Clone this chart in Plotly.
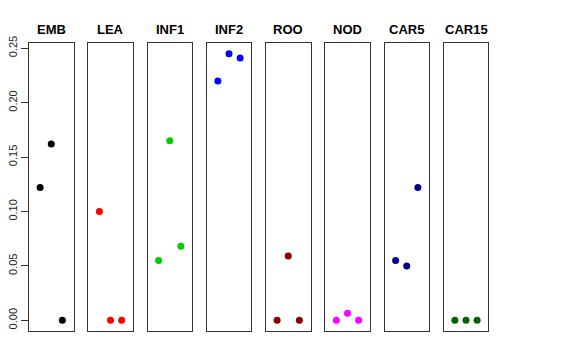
import plotly.graph_objects as go

panels = ["EMB", "LEA", "INF1", "INF2", "ROO", "NOD", "CAR5", "CAR15"]
colors = ["#000000", "#FF0000", "#00CD00", "#0000FF", "#8B0000", "#FF00FF", "#00008B", "#006400"]
positions = [1, 2, 3]
values = [
    [0.122, 0.162, 0.000],
    [0.100, 0.000, 0.000],
    [0.055, 0.165, 0.068],
    [0.220, 0.245, 0.241],
    [0.000, 0.059, 0.000],
    [0.000, 0.0065, 0.000],
    [0.055, 0.050, 0.122],
    [0.000, 0.000, 0.000],
]
yticks = [0.00, 0.05, 0.10, 0.15, 0.20, 0.25]
yticklabels = ["0.00", "0.05", "0.10", "0.15", "0.20", "0.25"]

W, H = 576, 360
left0, pitch, pw = 29, 59.25, 44.5
top, bottom = 43, 331
ymax = 0.245
yrange = [-0.04 * ymax, ymax * 1.04]

fig = go.Figure()
layout = dict(
    width=W, height=H, margin=dict(l=0, r=0, t=0, b=0),
    paper_bgcolor="white", plot_bgcolor="white", showlegend=False,
    font=dict(family="Liberation Sans, Arial, sans-serif", color="black"),
)
annotations = []
for i, (name, col, vals) in enumerate(zip(panels, colors, values)):
    n = "" if i == 0 else str(i + 1)
    fig.add_trace(go.Scatter(
        x=positions, y=vals, mode="markers",
        marker=dict(color=col, size=7),
        xaxis="x" + n, yaxis="y" + n, hoverinfo="skip",
    ))
    x0 = (left0 + i * pitch) / W
    x1 = (left0 + i * pitch + pw) / W
    layout["xaxis" + n] = dict(
        domain=[x0, x1], range=[0, 4], showgrid=False, zeroline=False,
        showticklabels=False, ticks="", showline=True, mirror=True,
        linecolor="#333333", linewidth=1, anchor="y" + n, fixedrange=True,
    )
    ya = dict(
        domain=[1 - bottom / H, 1 - top / H], range=yrange, showgrid=False,
        zeroline=False, showline=True, mirror=True, linecolor="#333333",
        linewidth=1, anchor="x" + n, fixedrange=True, automargin=False,
    )
    if i == 0:
        ya.update(tickmode="array", tickvals=yticks, ticktext=yticklabels,
                  ticks="outside", ticklen=7, tickcolor="#333333",
                  tickangle=-90, tickfont=dict(size=11, color="#222222"))
    else:
        ya.update(showticklabels=False, ticks="")
    layout["yaxis" + n] = ya
    annotations.append(dict(
        x=(x0 + x1) / 2, y=1 - 29 / H, xref="paper", yref="paper",
        text="<b>" + name + "</b>", showarrow=False,
        font=dict(size=13, color="black"), xanchor="center", yanchor="middle",
    ))
layout["annotations"] = annotations
fig.update_layout(**layout)
fig.write_html("out.html", config={"displayModeBar": False},
               post_script="document.body.style.margin='0';document.documentElement.style.overflow='hidden';")
